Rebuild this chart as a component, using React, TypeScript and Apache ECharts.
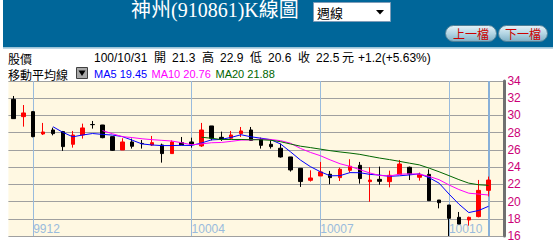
import React, { useEffect, useRef } from 'react';
import * as echarts from 'echarts';

// Weekly categories (ROC calendar), last slot left empty
const weeks = [
  '99/11/22', '99/11/29', '99/12/06', '99/12/13', '99/12/20', '99/12/27',
  '100/01/03', '100/01/10', '100/01/17', '100/01/24', '100/02/07', '100/02/14',
  '100/02/21', '100/02/28', '100/03/07', '100/03/14', '100/03/21', '100/03/28',
  '100/04/04', '100/04/11', '100/04/18', '100/04/25', '100/05/02', '100/05/09',
  '100/05/16', '100/05/23', '100/05/30', '100/06/06', '100/06/13', '100/06/20',
  '100/06/27', '100/07/04', '100/07/11', '100/07/18', '100/07/25', '100/08/01',
  '100/08/08', '100/08/15', '100/08/22', '100/08/29', '100/09/05', '100/09/12',
  '100/09/19', '100/09/26', '100/10/03', '100/10/10', '100/10/17', '100/10/24',
  '100/10/31', ''
];

const opens = [31.87, 29.86, 30.44, 27.85, 28.31, 28.12, 26.65, 27.73, 28.95, 28.89,
  27.54, 25.99, 26.92, 26.75, 26.57, 26.57, 25.57, 26.84, 26.92, 26.46,
  28.78, 27.46, 27.35, 27.89, 28.31, 27.23, 26.65, 26.19, 25.18, 23.86,
  22.47, 22.97, 23.17, 22.78, 23.63, 24.21, 22.31, 22.58, 22.31, 23.16,
  23.98, 22.82, 23.16, 20.18, 19.60, 18.17, 17.86, 18.25, 21.3];
const closes = [29.63, 30.29, 27.54, 28.08, 27.89, 26.38, 27.73, 28.55, 28.93, 27.42,
  25.95, 26.92, 26.42, 26.73, 26.84, 25.57, 26.92, 26.57, 26.65, 28.31,
  27.35, 27.23, 27.73, 28.20, 27.11, 26.53, 26.38, 25.18, 23.67, 22.32,
  22.74, 23.44, 22.78, 23.75, 24.10, 22.67, 22.50, 22.35, 23.05, 24.36,
  23.20, 23.16, 20.10, 19.87, 18.05, 17.39, 18.17, 21.30, 22.5];
const lows = [29.60, 28.70, 27.46, 27.73, 27.69, 25.88, 26.26, 27.31, 28.47, 27.35,
  25.88, 25.99, 26.15, 26.15, 26.46, 24.52, 25.57, 26.57, 26.26, 26.34,
  27.11, 27.04, 27.23, 27.50, 27.04, 26.15, 26.15, 25.10, 23.48, 21.70,
  22.32, 22.97, 22.01, 22.39, 23.36, 22.08, 19.98, 21.96, 21.65, 23.16,
  22.50, 22.43, 20.10, 19.21, 16.00, 17.39, 17.20, 18.17, 20.6];
const highs = [32.26, 31.21, 30.52, 29.13, 28.58, 28.20, 28.20, 29.05, 29.36, 28.90,
  27.54, 27.35, 27.31, 27.15, 27.62, 26.73, 27.11, 27.50, 27.42, 29.13,
  28.78, 28.12, 28.20, 28.66, 28.66, 27.42, 27.11, 26.73, 25.18, 23.86,
  23.63, 24.60, 23.56, 23.94, 24.91, 24.60, 23.98, 24.06, 23.59, 24.83,
  24.06, 23.36, 23.74, 20.18, 19.60, 18.79, 18.25, 22.51, 22.9];

const ma5 = ['-', '-', '-', '-', 28.69, 28.04, 27.52, 27.73, 27.90, 27.80, 27.72, 27.55,
  27.13, 26.69, 26.57, 26.50, 26.50, 26.53, 26.51, 26.80, 27.16, 27.22, 27.45, 27.76,
  27.52, 27.36, 27.19, 26.68, 25.77, 24.82, 24.06, 23.47, 22.99, 23.01, 23.36, 23.35,
  23.16, 23.07, 22.93, 22.99, 23.09, 23.22, 22.77, 22.14, 20.88, 19.71, 18.72, 18.96,
  19.45, '-'];
const ma10 = ['-', '-', '-', '-', '-', '-', '-', '-', '-', 28.24, 27.88, 27.54, 27.43,
  27.29, 27.19, 27.11, 27.03, 26.83, 26.60, 26.69, 26.83, 26.86, 26.99, 27.14, 27.16,
  27.26, 27.21, 27.07, 26.77, 26.17, 25.71, 25.33, 24.84, 24.39, 24.09, 23.70, 23.32,
  23.03, 22.97, 23.17, 23.22, 23.19, 22.92, 22.54, 21.93, 21.40, 20.97, 20.87, 20.76, '-'];
const ma20 = ['-', '-', '-', '-', '-', '-', '-', '-', '-', '-', '-', '-', '-', '-', '-',
  '-', '-', '-', '-', 27.47, 27.35, 27.20, 27.21, 27.21, 27.18, 27.18, 27.12, 26.95,
  26.68, 26.43, 26.27, 26.09, 25.91, 25.76, 25.63, 25.48, 25.26, 25.05, 24.87, 24.67,
  24.46, 24.26, 23.88, 23.46, 23.01, 22.55, 22.14, 21.95, 21.88, '-'];

const priceMin = 16;
const priceMax = 34;
const priceStep = 2;

const monthLabels = ['9912', '10004', '10007', '10010'];
const monthWeeks = ['99/12/06', '100/04/04', '100/07/04', '100/10/03'];
const currentWeek = '100/10/31';

const infoTokens = [
  { t: '100/10/31', x: 94 }, { t: '開', x: 154 }, { t: '21.3', x: 172 },
  { t: '高', x: 202 }, { t: '22.9', x: 220 }, { t: '低', x: 250 },
  { t: '20.6', x: 268 }, { t: '收', x: 298 }, { t: '22.5', x: 316 },
  { t: '元', x: 342 }, { t: '+1.2(+5.63%)', x: 358 }
];
const maTokens = [
  { t: 'MA5 19.45', x: 94, c: '#0000ff' },
  { t: 'MA10 20.76', x: 151.5, c: '#ff00ff' },
  { t: 'MA20 21.88', x: 215.5, c: '#006600' }
];

const CJK = '"Noto Sans CJK TC", "Noto Sans CJK SC", sans-serif';
const ASC = '"Liberation Sans", "Noto Sans CJK TC", sans-serif';

export default function App() {
  const ref = useRef<HTMLDivElement>(null);
  useEffect(() => {
    const chart = echarts.init(ref.current!, null, { renderer: 'svg' });
    const candleData: any[] = opens.map((o, i) => [o, closes[i], lows[i], highs[i]]);
    candleData.push('-');

    const graphics: any[] = [
      { type: 'rect', shape: { x: 3, y: 0, width: 550, height: 47.5 }, style: { fill: '#006699' }, silent: true },
      { type: 'rect', shape: { x: 3, y: 47.5, width: 550, height: 1.5 }, style: { fill: '#bcd6e4' }, silent: true },
      {
        type: 'text', x: 131, y: 10,
        style: { text: '神州(910861)K線圖', fill: '#ffffff', font: '20px "Liberation Serif", "Noto Sans CJK TC", serif', textVerticalAlign: 'middle' }
      },
      { type: 'rect', shape: { x: 313.5, y: 2.5, width: 77, height: 19 }, style: { fill: '#ffffff', stroke: '#7f9db9', lineWidth: 1 } },
      { type: 'text', x: 317, y: 12, style: { text: '週線', fill: '#000000', font: '13px ' + CJK, textVerticalAlign: 'middle' } },
      { type: 'polygon', shape: { points: [[376, 10], [384, 10], [380, 14.5]] }, style: { fill: '#000000' } },
    ];
    const buttons = [
      { t: '上一檔', x: 445, w: 51 },
      { t: '下一檔', x: 498, w: 49 }
    ];
    buttons.forEach((b) => {
      graphics.push({
        type: 'rect', shape: { x: b.x + 0.5, y: 25.5, width: b.w, height: 16, r: 8 },
        style: {
          fill: new echarts.graphic.LinearGradient(0, 0, 0, 1, [
            { offset: 0, color: '#e6f3f8' }, { offset: 0.5, color: '#b4d6e4' }, { offset: 1, color: '#7fb0c6' }
          ]),
          stroke: '#4f7f96', lineWidth: 1
        }
      });
      graphics.push({
        type: 'text', x: b.x + b.w / 2 + 0.5, y: 33.5,
        style: { text: b.t, fill: '#cc0000', font: '12px ' + CJK, textAlign: 'center', textVerticalAlign: 'middle' }
      });
    });
    graphics.push({ type: 'text', x: 8, y: 58, style: { text: '股價', fill: '#000', font: '12px ' + CJK, textVerticalAlign: 'middle' } });
    infoTokens.forEach((k) => {
      graphics.push({ type: 'text', x: k.x, y: 58, style: { text: k.t, fill: '#000', font: '12px ' + ASC, textVerticalAlign: 'middle' } });
    });
    graphics.push({ type: 'text', x: 8, y: 74, style: { text: '移動平均線', fill: '#000', font: '12px ' + CJK, textVerticalAlign: 'middle' } });
    graphics.push({ type: 'rect', shape: { x: 76.5, y: 67.5, width: 11, height: 11 }, style: { fill: '#a8a8a8', stroke: '#404040', lineWidth: 1 } });
    graphics.push({ type: 'polygon', shape: { points: [[78.5, 70.5], [85.5, 70.5], [82, 76]] }, style: { fill: '#000' } });
    maTokens.forEach((k) => {
      graphics.push({ type: 'text', x: k.x, y: 74, style: { text: k.t, fill: k.c, font: '11px ' + ASC, textVerticalAlign: 'middle' } });
    });

    const vLines: any[] = monthWeeks.map((w) => ({ xAxis: w, lineStyle: { color: '#99bbdd', width: 1, type: 'solid' } }));
    vLines.push({ xAxis: currentWeek, lineStyle: { color: '#88b0d8', width: 2, type: 'solid' } });

    chart.setOption({
      animation: false,
      backgroundColor: '#ffffff',
      graphic: { elements: graphics },
      grid: { left: 8.4, right: 49.6, top: 81, bottom: 11, show: true, backgroundColor: '#fff8e2', borderWidth: 0 },
      xAxis: {
        type: 'category', data: weeks, boundaryGap: true,
        axisLine: { show: false }, axisTick: { show: false }, splitLine: { show: false },
        axisLabel: {
          inside: true, interval: 0, margin: 1, color: '#99bbdd', fontSize: 12, fontFamily: 'Liberation Sans', align: 'left',
          formatter: (v: string) => { const k = monthWeeks.indexOf(v); return k >= 0 ? monthLabels[k] : ''; }
        }
      },
      yAxis: {
        type: 'value', position: 'right', min: priceMin, max: priceMax, interval: priceStep, offset: 1,
        axisLine: { show: true, lineStyle: { color: '#707070', width: 3 } },
        axisTick: { show: false },
        splitLine: { show: true, lineStyle: { color: '#a0a0a0', width: 1 } },
        axisLabel: { color: '#cc0077', fontSize: 12, margin: 3, fontFamily: 'Liberation Sans' }
      },
      series: [
        {
          type: 'candlestick', data: candleData, barWidth: 4, z: 3,
          itemStyle: { color: '#ff0000', color0: '#000000', borderColor: '#ff0000', borderColor0: '#000000', borderWidth: 1 },
          markLine: { silent: true, symbol: ['none', 'none'], label: { show: false }, z: 1, data: vLines }
        },
        { type: 'line', data: ma5, symbol: 'none', z: 4, lineStyle: { color: '#0000ff', width: 1 }, itemStyle: { color: '#0000ff' } },
        { type: 'line', data: ma10, symbol: 'none', z: 4, lineStyle: { color: '#ff00ff', width: 1 }, itemStyle: { color: '#ff00ff' } },
        { type: 'line', data: ma20, symbol: 'none', z: 4, lineStyle: { color: '#006600', width: 1 }, itemStyle: { color: '#006600' } }
      ]
    });
    return () => chart.dispose();
  }, []);
  return <div ref={ref} style={{ position: 'absolute', left: 0, top: 0, width: 553, height: 247 }} />;
}
